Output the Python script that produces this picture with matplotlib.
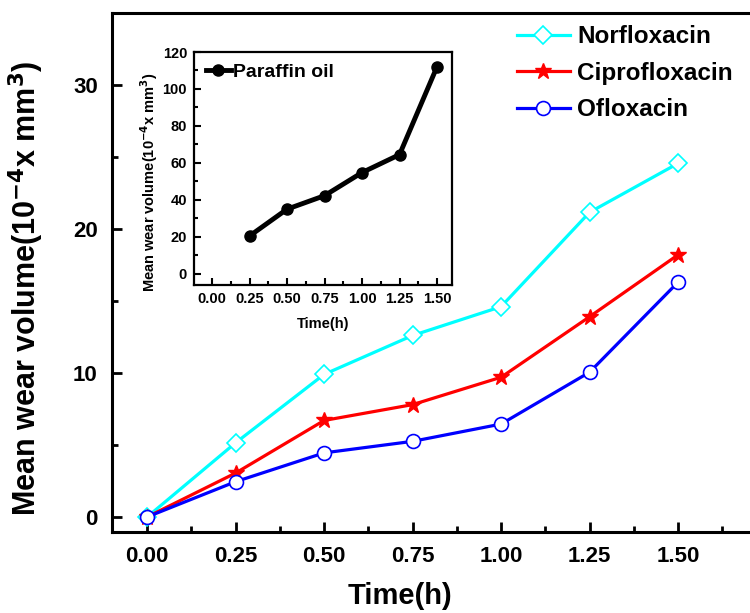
import numpy as np
import matplotlib
matplotlib.use('Agg')
import matplotlib.pyplot as plt
from matplotlib.ticker import MultipleLocator

# datos
tiempo = [0.0, 0.25, 0.50, 0.75, 1.00, 1.25, 1.50]
norfloxacina = [0.0, 5.15, 9.9, 12.6, 14.6, 21.15, 24.55]
ciprofloxacina = [0.0, 3.05, 6.7, 7.8, 9.7, 13.9, 18.2]
ofloxacina = [0.0, 2.45, 4.45, 5.25, 6.45, 10.05, 16.3]

tiempo_parafina = [0.25, 0.50, 0.75, 1.00, 1.25, 1.50]
parafina = [20.5, 35.0, 42.3, 54.8, 64.5, 112.0]

plt.rcParams['font.family'] = ['Liberation Sans', 'DejaVu Sans']
plt.rcParams['font.weight'] = 'bold'
plt.rcParams['mathtext.default'] = 'bf'

etiqueta_y = 'Mean wear volume(10$^{-4}$x mm$^{3}$)'

fig = plt.figure(figsize=(7.5, 6.13), dpi=100)
ax = fig.add_axes([0.149, 0.132, 0.873, 0.847])

ax.plot(tiempo, norfloxacina, color='#00ffff', lw=2.3, marker='D', ms=9,
        mfc='white', mec='#00ffff', mew=1.2, label='Norfloxacin')
ax.plot(tiempo, ciprofloxacina, color='#ff0000', lw=2.3, marker='*', ms=12,
        mfc='#ff0000', mec='#ff0000', label='Ciprofloxacin')
ax.plot(tiempo, ofloxacina, color='#0000ff', lw=2.3, marker='o', ms=10,
        mfc='white', mec='#0000ff', mew=1.2, label='Ofloxacin')

ax.set_xlim(-0.1, 1.75)
ax.set_ylim(-1.05, 35)
ax.set_xticks(tiempo)
ax.set_xticklabels(['%.2f' % t for t in tiempo])
ax.xaxis.set_minor_locator(MultipleLocator(0.125))
ax.set_yticks([0, 10, 20, 30])
ax.yaxis.set_minor_locator(MultipleLocator(5))
ax.tick_params(which='both', direction='in', width=2, top=False, right=False)
ax.tick_params(which='major', length=7, labelsize=16, pad=10)
ax.tick_params(which='minor', length=4)
for s in ax.spines.values():
    s.set_linewidth(2.2)

ax.set_xlabel('Time(h)', fontsize=21, fontweight='bold')
ax.xaxis.set_label_coords(0.44, -0.097)
ax.set_ylabel(etiqueta_y, fontsize=22, fontweight='bold')
ax.yaxis.set_label_coords(-0.1, 0.47)

leg = ax.legend(loc='upper left', bbox_to_anchor=(0.585, 1.018), frameon=False,
                fontsize=17.5, handlelength=2.2, handletextpad=0.3, labelspacing=0.55)
for t in leg.get_texts():
    t.set_fontweight('bold')

# grafico interno
ins = fig.add_axes([194 / 750, 1 - 285 / 613, 258 / 750, 233 / 613])
ins.plot(tiempo_parafina, parafina, color='black', lw=3.5, marker='o', ms=8,
         label='Paraffin oil')
ins.set_xlim(-0.12, 1.6)
ins.set_ylim(-6, 120)
ins.set_xticks([0.0, 0.25, 0.5, 0.75, 1.0, 1.25, 1.5])
ins.set_xticklabels(['0.00', '0.25', '0.50', '0.75', '1.00', '1.25', '1.50'])
ins.xaxis.set_minor_locator(MultipleLocator(0.125))
ins.set_yticks([0, 20, 40, 60, 80, 100, 120])
ins.yaxis.set_minor_locator(MultipleLocator(10))
ins.tick_params(which='both', direction='in', width=1.5, top=False, right=False)
ins.tick_params(which='major', length=5, labelsize=10.5, pad=5)
ins.tick_params(which='minor', length=3)
for s in ins.spines.values():
    s.set_linewidth(1.6)
ins.set_xlabel('Time(h)', fontsize=10.5, fontweight='bold', labelpad=8)
ins.set_ylabel(etiqueta_y, fontsize=10.5, fontweight='bold')
ins.yaxis.set_label_coords(-0.13, 0.44)
leg2 = ins.legend(loc='upper left', frameon=False, fontsize=14,
                  handlelength=1.3, handletextpad=0.1, borderaxespad=0.2)
for t in leg2.get_texts():
    t.set_fontweight('bold')

fig.savefig('out.png', dpi=100)
